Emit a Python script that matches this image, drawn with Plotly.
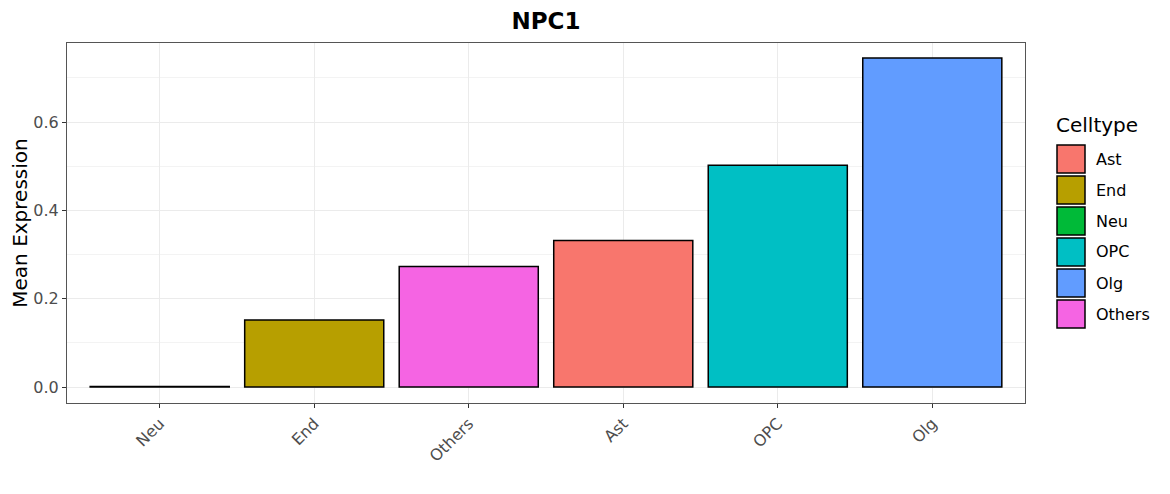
import plotly.graph_objects as go

# Data
categories = ["Neu", "End", "Others", "Ast", "OPC", "Olg"]
values = [0.001, 0.152, 0.273, 0.332, 0.502, 0.745]
legend_order = ["Ast", "End", "Neu", "OPC", "Olg", "Others"]
colors = {
    "Ast": "#F8766D",
    "End": "#B79F00",
    "Neu": "#00BA38",
    "OPC": "#00BFC4",
    "Olg": "#619CFF",
    "Others": "#F564E3",
}
y_ticks = [0.0, 0.2, 0.4, 0.6]
y_tick_labels = ["0.0", "0.2", "0.4", "0.6"]

FONT = "DejaVu Sans"
OFF = 8  # page body margin
W, H = 1170 - OFF, 494 - OFF
L, R, T, B = 67 - OFF, 145, 43 - OFF, 91
PW, PH = W - L - R, H - T - B

fig = go.Figure()
for cat, val in zip(categories, values):
    fig.add_trace(go.Bar(
        x=[cat], y=[val], width=0.9,
        marker=dict(color=colors[cat], line=dict(color="black", width=1.5)),
        showlegend=False, name=cat,
    ))

# Legend (ggplot-style keys); coordinates given in page pixels
def px_to_paper(px, py):
    px -= OFF
    py -= OFF
    return (px - L) / PW, (T + PH - py) / PH

shapes = []
annotations = []
tx, ty = px_to_paper(1054, 125)
annotations.append(dict(x=tx, y=ty, xref="paper", yref="paper", text="Celltype",
                        showarrow=False, xanchor="left", yanchor="middle",
                        font=dict(family=FONT, size=20, color="black")))
for i, cat in enumerate(legend_order):
    top = 145 + i * 31
    x0, y1 = px_to_paper(1057, top)
    x1, y0 = px_to_paper(1085, top + 28)
    shapes.append(dict(type="rect", xref="paper", yref="paper", x0=x0, x1=x1, y0=y0, y1=y1,
                       fillcolor=colors[cat], line=dict(color="black", width=1.5)))
    lx, ly = px_to_paper(1094, top + 14)
    annotations.append(dict(x=lx, y=ly, xref="paper", yref="paper", text=cat,
                            showarrow=False, xanchor="left", yanchor="middle",
                            font=dict(family=FONT, size=16, color="black")))

fig.update_layout(
    width=W, height=H,
    margin=dict(l=L, r=R, t=T, b=B, pad=0),
    plot_bgcolor="white", paper_bgcolor="white",
    barmode="overlay",
    title=dict(text="<b>NPC1</b>", x=(L + PW / 2) / W, xanchor="center",
               y=1 - (21 - OFF) / H, yanchor="middle",
               font=dict(family=FONT, size=23, color="black")),
    shapes=shapes, annotations=annotations,
    font=dict(family=FONT),
)
fig.update_xaxes(
    categoryorder="array", categoryarray=categories,
    range=[-0.6, len(categories) - 0.4],
    showgrid=True, gridcolor="#ebebeb", gridwidth=1,
    showline=True, linecolor="#555555", linewidth=1, mirror=True,
    ticks="outside", ticklen=4, tickcolor="#333333",
    tickangle=-45, tickfont=dict(family=FONT, size=16, color="#4d4d4d"),
    zeroline=False, automargin=False,
)
fig.update_yaxes(
    range=[-0.0362, 0.779],
    tickvals=y_ticks, ticktext=y_tick_labels,
    showgrid=True, gridcolor="#ebebeb", gridwidth=1,
    minor=dict(tickvals=[0.1, 0.3, 0.5, 0.7], showgrid=True, gridcolor="#f3f3f3", gridwidth=1, ticks=""),
    showline=True, linecolor="#555555", linewidth=1, mirror=True,
    ticks="outside", ticklen=4, tickcolor="#333333",
    tickfont=dict(family=FONT, size=16, color="#4d4d4d"),
    title=dict(text="Mean Expression", font=dict(family=FONT, size=20, color="black"), standoff=4),
    zeroline=False, automargin=False,
)

fig.write_html("out.html")
